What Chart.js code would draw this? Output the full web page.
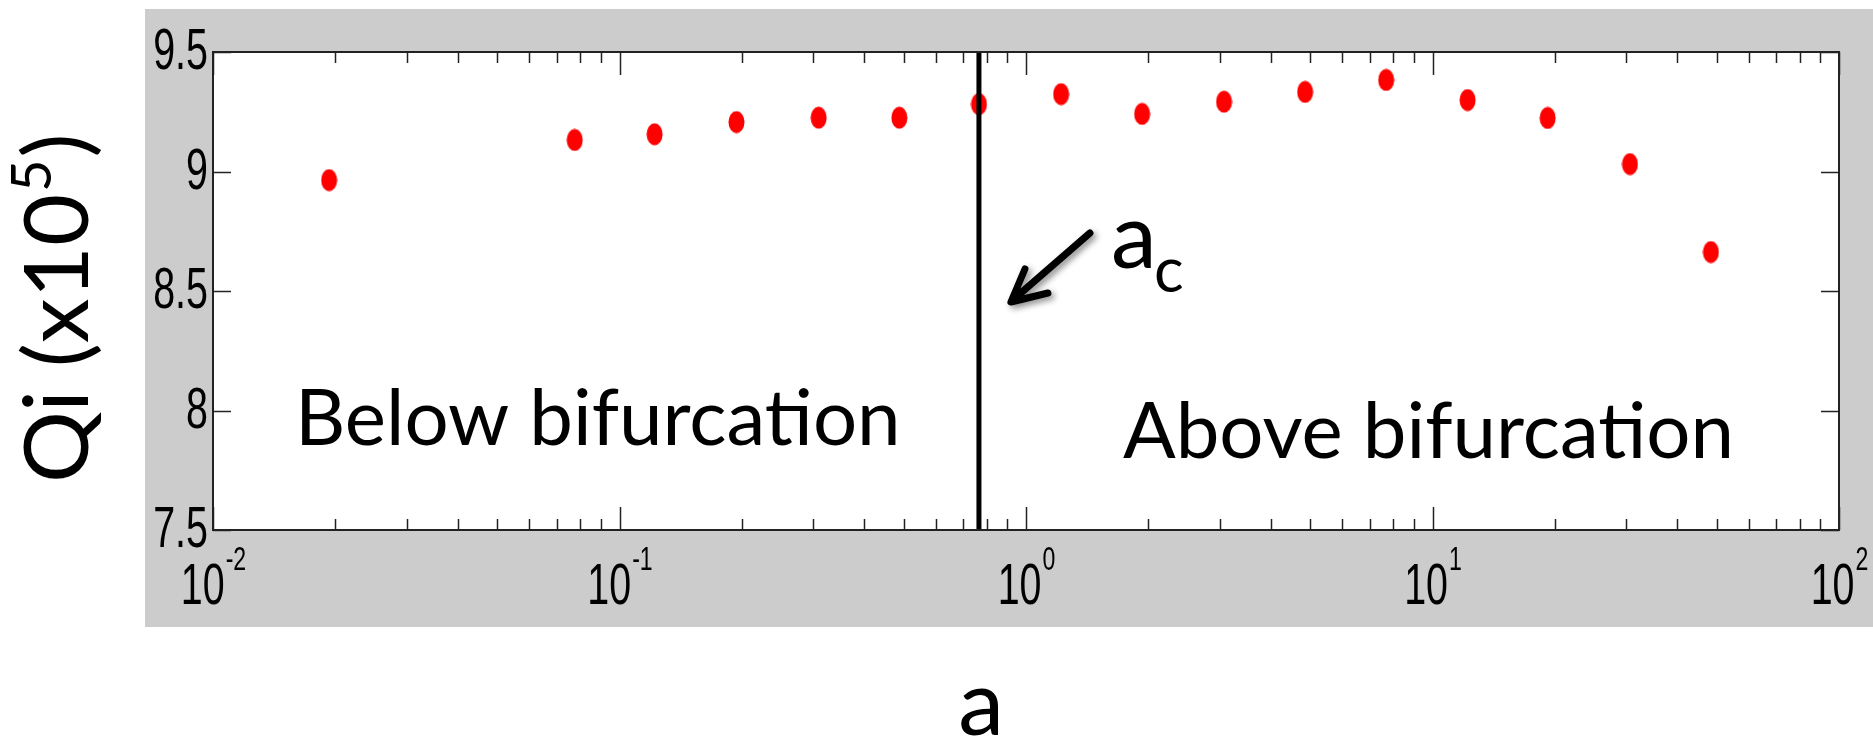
<!DOCTYPE html>
<html>
<head>
<meta charset="utf-8">
<title>Qi vs a</title>
<script src="https://cdn.jsdelivr.net/npm/chart.js@4.4.1/dist/chart.umd.min.js"></script>
<style>
  html, body { margin: 0; padding: 0; background: #ffffff; }
  #chart { display: block; }
</style>
</head>
<body>
<canvas id="chart" width="1873" height="743"></canvas>
<script>
// Data
const aValues = [0.0193, 0.0776, 0.122, 0.194, 0.309, 0.488, 0.766, 1.22, 1.93, 3.07, 4.86, 7.69, 12.2, 19.2, 30.6, 48.4];
const qiValues = [8.964, 9.132, 9.156, 9.207, 9.225, 9.225, 9.282, 9.324, 9.241, 9.292, 9.333, 9.383, 9.299, 9.224, 9.031, 8.663];
const criticalA = 0.766;

// Axis ticks
const yTicks = [7.5, 8, 8.5, 9, 9.5];
const yTickLabels = ['7.5', '8', '8.5', '9', '9.5'];
const xDecades = [0.01, 0.1, 1, 10, 100];
const xDecadeExponents = ['-2', '-1', '0', '1', '2'];
const xMinorSteps = [2, 3, 4, 5, 6, 7, 8, 9];

const TEXT_FONT = 'Lato, "Open Sans", sans-serif';
const TICK_FONT = '"Liberation Sans", Arial, sans-serif';

/**
 * Red marker, a bit taller than wide like in the original figure
 */
function makeMarker() {
    const c = document.createElement('canvas');
    c.width = 17;
    c.height = 23;
    const g = c.getContext('2d');
    g.fillStyle = '#ff0000';
    g.beginPath();
    g.ellipse(8.5, 11.5, 8, 11, 0, 0, Math.PI * 2);
    g.fill();
    return c;
}

/**
 * Draw condensed text (the tick labels are squeezed horizontally)
 */
function condensedText(ctx, text, x, y, squeeze) {
    ctx.save();
    ctx.translate(x, y);
    ctx.scale(squeeze, 1);
    ctx.fillText(text, 0, 0);
    ctx.restore();
}

const figurePlugin = {
    id: 'figure',
    beforeDraw(chart) {
        const ctx = chart.ctx;
        const area = chart.chartArea;
        ctx.save();
        ctx.fillStyle = '#ffffff';
        ctx.fillRect(0, 0, chart.width, chart.height);
        // gray figure background
        ctx.fillStyle = '#cccccc';
        ctx.fillRect(145, 9, chart.width - 145, 618);
        ctx.fillStyle = '#ffffff';
        ctx.fillRect(area.left, area.top, area.right - area.left, area.bottom - area.top);
        ctx.restore();
    },
    afterDraw(chart) {
        const ctx = chart.ctx;
        const area = chart.chartArea;
        const xs = chart.scales.x;
        const ys = chart.scales.y;
        const squeeze = 0.68;

        ctx.save();

        // frame
        ctx.strokeStyle = '#222222';
        ctx.lineWidth = 2;
        ctx.strokeRect(area.left, area.top, area.right - area.left, area.bottom - area.top);

        // y ticks (inward, both sides)
        ctx.lineWidth = 1.5;
        ctx.beginPath();
        yTicks.forEach(v => {
            const y = Math.round(ys.getPixelForValue(v)) + 0.5;
            ctx.moveTo(area.left, y);
            ctx.lineTo(area.left + 18, y);
            ctx.moveTo(area.right, y);
            ctx.lineTo(area.right - 18, y);
        });

        // x ticks (major + minor, top and bottom)
        xDecades.forEach((d, i) => {
            const px = Math.round(xs.getPixelForValue(d)) + 0.5;
            ctx.moveTo(px, area.bottom);
            ctx.lineTo(px, area.bottom - 23);
            ctx.moveTo(px, area.top);
            ctx.lineTo(px, area.top + 23);
            if (i === xDecades.length - 1) return;
            xMinorSteps.forEach(m => {
                const mx = Math.round(xs.getPixelForValue(d * m)) + 0.5;
                ctx.moveTo(mx, area.bottom);
                ctx.lineTo(mx, area.bottom - 11);
                ctx.moveTo(mx, area.top);
                ctx.lineTo(mx, area.top + 11);
            });
        });
        ctx.stroke();

        // y tick labels
        ctx.fillStyle = '#000000';
        ctx.font = '58px ' + TICK_FONT;
        ctx.textAlign = 'right';
        ctx.textBaseline = 'middle';
        yTicks.forEach((v, i) => {
            condensedText(ctx, yTickLabels[i], area.left - 5, ys.getPixelForValue(v) + 1, squeeze);
        });

        // x tick labels: 10 with superscript exponent
        ctx.textAlign = 'left';
        ctx.textBaseline = 'alphabetic';
        xDecades.forEach((d, i) => {
            const px = xs.getPixelForValue(d);
            ctx.font = '58px ' + TICK_FONT;
            const baseW = ctx.measureText('10').width * squeeze;
            ctx.font = '34px ' + TICK_FONT;
            const supW = ctx.measureText(xDecadeExponents[i]).width * squeeze;
            const x0 = px - (baseW + supW) / 2;
            ctx.font = '58px ' + TICK_FONT;
            condensedText(ctx, '10', x0, area.bottom + 74, squeeze);
            ctx.font = '34px ' + TICK_FONT;
            condensedText(ctx, xDecadeExponents[i], x0 + baseW + 1, area.bottom + 40, squeeze);
        });

        // y axis title, rotated
        ctx.save();
        ctx.translate(88, 483);
        ctx.rotate(-Math.PI / 2);
        ctx.textAlign = 'left';
        ctx.font = '90px ' + TEXT_FONT;
        let tx = 0;
        ctx.fillText('Qi (x10', tx, 0);
        tx += ctx.measureText('Qi (x10').width;
        ctx.font = '56px ' + TEXT_FONT;
        ctx.fillText('5', tx + 2, -37);
        tx += ctx.measureText('5').width + 4;
        ctx.font = '90px ' + TEXT_FONT;
        ctx.fillText(')', tx, 0);
        ctx.restore();

        // x axis title
        ctx.font = '92px ' + TEXT_FONT;
        ctx.textAlign = 'center';
        ctx.fillText('a', 981, 735);

        // region labels
        ctx.font = '78px ' + TEXT_FONT;
        ctx.textAlign = 'left';
        ctx.fillText('Below bifurcation', 295, 445);
        ctx.fillText('Above bifurcation', 1123, 458);

        // a_c label and arrow, placed from the critical line
        const cx = xs.getPixelForValue(criticalA);
        ctx.font = '92px ' + TEXT_FONT;
        ctx.fillText('a', cx + 132, 268);
        ctx.font = '62px ' + TEXT_FONT;
        ctx.fillText('c', cx + 175, 292);

        ctx.save();
        ctx.shadowColor = 'rgba(0, 0, 0, 0.45)';
        ctx.shadowBlur = 6;
        ctx.shadowOffsetX = 3;
        ctx.shadowOffsetY = 3;
        ctx.strokeStyle = '#000000';
        ctx.lineWidth = 7;
        ctx.lineCap = 'round';
        ctx.lineJoin = 'round';
        const tipX = cx + 32, tipY = 302;
        ctx.beginPath();
        ctx.moveTo(cx + 111, 233);
        ctx.lineTo(tipX + 3, tipY - 3);
        ctx.moveTo(tipX + 14, tipY - 33);
        ctx.lineTo(tipX, tipY);
        ctx.lineTo(tipX + 37, tipY - 9);
        ctx.stroke();
        ctx.restore();

        ctx.restore();
    }
};

const ctx = document.getElementById('chart').getContext('2d');
new Chart(ctx, {
    type: 'scatter',
    data: {
        datasets: [
            {
                label: 'a_c',
                type: 'line',
                data: [{ x: criticalA, y: 7.5 }, { x: criticalA, y: 9.5 }],
                borderColor: '#000000',
                borderWidth: 5,
                pointRadius: 0,
                order: 0
            },
            {
                label: 'Qi',
                data: aValues.map((a, i) => ({ x: a, y: qiValues[i] })),
                pointStyle: makeMarker(),
                backgroundColor: '#ff0000',
                borderColor: '#ff0000',
                order: 1
            }
        ]
    },
    options: {
        responsive: false,
        animation: false,
        devicePixelRatio: 1,
        layout: {
            padding: { left: 213, right: 34, top: 52, bottom: 213 }
        },
        plugins: {
            legend: { display: false },
            tooltip: { enabled: false }
        },
        scales: {
            x: {
                type: 'logarithmic',
                min: 0.01,
                max: 100,
                display: false
            },
            y: {
                type: 'linear',
                min: 7.5,
                max: 9.5,
                display: false
            }
        }
    },
    plugins: [figurePlugin]
});
</script>
</body>
</html>
